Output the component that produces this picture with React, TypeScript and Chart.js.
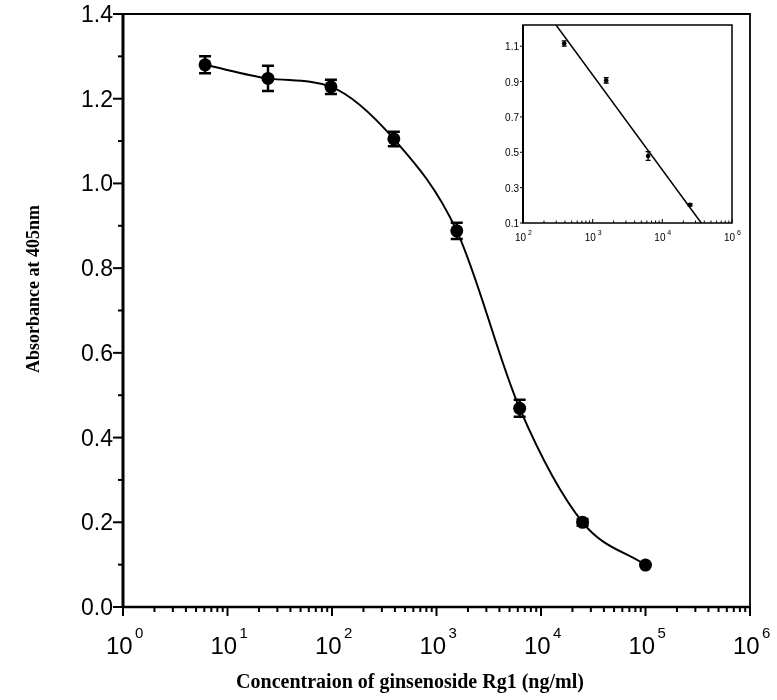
import React, { useEffect, useRef } from "react";
import { Chart, registerables } from "chart.js";

Chart.register(...registerables);

// ---- main plot data ----
const concentrations = [6.1, 24.4, 97.7, 390.6, 1562.5, 6250, 25000, 100000];
const absorbance = [1.28, 1.248, 1.228, 1.105, 0.888, 0.469, 0.2, 0.099];
const absorbanceError = [0.02, 0.03, 0.017, 0.017, 0.019, 0.02, 0.008, 0];

const yTickValues = [0, 0.1, 0.2, 0.3, 0.4, 0.5, 0.6, 0.7, 0.8, 0.9, 1.0, 1.1, 1.2, 1.3, 1.4];
const yTickLabels = ["0.0", "", "0.2", "", "0.4", "", "0.6", "", "0.8", "", "1.0", "", "1.2", "", "1.4"];
const xDecadeExponents = [0, 1, 2, 3, 4, 5, 6];

const xTitle = "Concentraion of ginsenoside Rg1 (ng/ml)";
const yTitle = "Absorbance at 405nm";

// ---- inset data ----
const insetConcentrations = [390.6, 1562.5, 6250, 25000];
const insetAbsorbance = [1.115, 0.907, 0.479, 0.203];
const insetError = [0.015, 0.015, 0.025, 0.006];
const insetFitX = [298, 36200];
const insetFitY = [1.22, 0.1];
const insetYTickValues = [0.1, 0.3, 0.5, 0.7, 0.9, 1.1];
const insetYTickLabels = ["0.1", "0.3", "0.5", "0.7", "0.9", "1.1"];
const insetXTickValues = [100, 1000, 10000, 100000];
const insetXTickExponents = ["2", "3", "4", "6"];

function drawErrorBars(chart: any, xsData: number[], ysData: number[], errs: number[], capHalf: number, lw: number) {
  const ctx = chart.ctx;
  const xs = chart.scales.x;
  const ys = chart.scales.y;
  ctx.save();
  ctx.strokeStyle = "#000";
  ctx.lineWidth = lw;
  for (let i = 0; i < xsData.length; i++) {
    const e = errs[i];
    if (!e) continue;
    const px = xs.getPixelForValue(xsData[i]);
    const y1 = ys.getPixelForValue(ysData[i] + e);
    const y2 = ys.getPixelForValue(ysData[i] - e);
    ctx.beginPath();
    ctx.moveTo(px, y1);
    ctx.lineTo(px, y2);
    ctx.moveTo(px - capHalf, y1);
    ctx.lineTo(px + capHalf, y1);
    ctx.moveTo(px - capHalf, y2);
    ctx.lineTo(px + capHalf, y2);
    ctx.stroke();
  }
  ctx.restore();
}

const mainPlugin = {
  id: "mainDecor",
  beforeDatasetsDraw(chart: any) {
    drawErrorBars(chart, concentrations, absorbance, absorbanceError, 6, 2.5);
  },
  afterDraw(chart: any) {
    const ctx = chart.ctx;
    const xs = chart.scales.x;
    const ys = chart.scales.y;
    const a = chart.chartArea;
    ctx.save();
    ctx.strokeStyle = "#000";
    ctx.fillStyle = "#000";
    // frame
    ctx.lineWidth = 1.8;
    ctx.beginPath();
    ctx.moveTo(a.left, a.top);
    ctx.lineTo(a.right, a.top);
    ctx.lineTo(a.right, a.bottom);
    ctx.stroke();
    ctx.lineWidth = 3;
    ctx.beginPath();
    ctx.moveTo(a.left, a.top - 1);
    ctx.lineTo(a.left, a.bottom);
    ctx.stroke();
    ctx.lineWidth = 2.5;
    ctx.beginPath();
    ctx.moveTo(a.left, a.bottom);
    ctx.lineTo(a.right, a.bottom);
    ctx.stroke();

    // y ticks + labels
    ctx.lineWidth = 2;
    ctx.font = '23px "Liberation Sans", Arial, sans-serif';
    ctx.textAlign = "right";
    ctx.textBaseline = "alphabetic";
    yTickValues.forEach((v, i) => {
      const py = ys.getPixelForValue(v);
      const major = yTickLabels[i] !== "";
      ctx.beginPath();
      ctx.moveTo(a.left, py);
      ctx.lineTo(a.left - (major ? 10 : 5), py);
      ctx.stroke();
      if (major) ctx.fillText(yTickLabels[i], a.left - 10, py + 8);
    });

    // x ticks (log decades with minor ticks)
    ctx.lineWidth = 2;
    for (let k = 0; k < xDecadeExponents.length; k++) {
      const e = xDecadeExponents[k];
      const base = Math.pow(10, e);
      const last = k === xDecadeExponents.length - 1;
      for (let m = 1; m <= (last ? 1 : 9); m++) {
        const px = xs.getPixelForValue(m * base);
        ctx.beginPath();
        ctx.moveTo(px, a.bottom);
        ctx.lineTo(px, a.bottom + (m === 1 ? 9 : 5));
        ctx.stroke();
      }
      const px = xs.getPixelForValue(base);
      ctx.textAlign = "left";
      ctx.font = '24px "Liberation Sans", Arial, sans-serif';
      ctx.fillText("10", px - 17, a.bottom + 47);
      ctx.font = '15px "Liberation Sans", Arial, sans-serif';
      ctx.fillText(String(e), px + 12, a.bottom + 31);
    }

    // titles
    ctx.font = 'bold 20px "Liberation Serif", "Times New Roman", serif';
    ctx.textAlign = "center";
    ctx.fillText(xTitle, 410, 688);
    ctx.save();
    ctx.translate(39, 289);
    ctx.rotate(-Math.PI / 2);
    ctx.font = 'bold 18px "Liberation Serif", "Times New Roman", serif';
    ctx.fillText(yTitle, 0, 0);
    ctx.restore();
    ctx.restore();
  },
};

const insetPlugin = {
  id: "insetDecor",
  beforeDraw(chart: any) {
    const ctx = chart.ctx;
    const a = chart.chartArea;
    ctx.save();
    ctx.fillStyle = "#fff";
    ctx.fillRect(a.left, a.top, a.right - a.left, a.bottom - a.top);
    ctx.restore();
  },
  beforeDatasetsDraw(chart: any) {
    drawErrorBars(chart, insetConcentrations, insetAbsorbance, insetError, 2.5, 1.3);
  },
  afterDraw(chart: any) {
    const ctx = chart.ctx;
    const xs = chart.scales.x;
    const ys = chart.scales.y;
    const a = chart.chartArea;
    ctx.save();
    ctx.strokeStyle = "#000";
    ctx.fillStyle = "#000";
    ctx.lineWidth = 1.5;
    ctx.strokeRect(a.left, a.top, a.right - a.left, a.bottom - a.top);
    ctx.lineWidth = 2;
    ctx.beginPath();
    ctx.moveTo(a.left, a.top);
    ctx.lineTo(a.left, a.bottom);
    ctx.stroke();

    ctx.lineWidth = 1;
    ctx.font = '10px "Liberation Sans", Arial, sans-serif';
    ctx.textAlign = "right";
    insetYTickValues.forEach((v, i) => {
      const py = ys.getPixelForValue(v);
      ctx.beginPath();
      ctx.moveTo(a.left, py);
      ctx.lineTo(a.left - 3, py);
      ctx.stroke();
      ctx.fillText(insetYTickLabels[i], a.left - 4, py + 4);
    });

    for (let k = 0; k < insetXTickValues.length; k++) {
      const base = insetXTickValues[k];
      const last = k === insetXTickValues.length - 1;
      for (let m = 1; m <= (last ? 1 : 9); m++) {
        const px = xs.getPixelForValue(m * base);
        ctx.beginPath();
        ctx.moveTo(px, a.bottom);
        ctx.lineTo(px, a.bottom - (m === 1 ? 4 : 2.5));
        ctx.stroke();
      }
      const px = xs.getPixelForValue(base);
      ctx.textAlign = "left";
      ctx.font = '10px "Liberation Sans", Arial, sans-serif';
      ctx.fillText("10", px - 8, a.bottom + 18);
      ctx.font = '7px "Liberation Sans", Arial, sans-serif';
      ctx.fillText(insetXTickExponents[k], px + 5, a.bottom + 12);
    }
    ctx.restore();
  },
};

export default function App() {
  const mainRef = useRef<HTMLCanvasElement | null>(null);
  const insetRef = useRef<HTMLCanvasElement | null>(null);

  useEffect(() => {
    document.body.style.margin = "0";
    const mainChart = new Chart(mainRef.current as HTMLCanvasElement, {
      type: "line",
      data: {
        datasets: [
          {
            data: concentrations.map((c, i) => ({ x: c, y: absorbance[i] })),
            borderColor: "#000",
            backgroundColor: "#000",
            borderWidth: 2,
            pointRadius: 6.5,
            pointBackgroundColor: "#000",
            pointBorderWidth: 0,
            cubicInterpolationMode: "monotone",
            fill: false,
          },
        ],
      },
      options: {
        animation: false,
        responsive: false,
        events: [],
        layout: { padding: { left: 123, right: 27, top: 14, bottom: 93 } },
        plugins: { legend: { display: false }, tooltip: { enabled: false } },
        scales: {
          x: { type: "logarithmic", min: 1, max: 1e6, display: false },
          y: { type: "linear", min: 0, max: 1.4, display: false },
        },
      },
      plugins: [mainPlugin],
    } as any);

    const insetChart = new Chart(insetRef.current as HTMLCanvasElement, {
      type: "line",
      data: {
        datasets: [
          {
            data: insetFitX.map((c, i) => ({ x: c, y: insetFitY[i] })),
            borderColor: "#000",
            borderWidth: 1.5,
            pointRadius: 0,
            tension: 0,
            fill: false,
          },
          {
            data: insetConcentrations.map((c, i) => ({ x: c, y: insetAbsorbance[i] })),
            showLine: false,
            pointRadius: 2.3,
            pointBackgroundColor: "#000",
            pointBorderWidth: 0,
          },
        ],
      },
      options: {
        animation: false,
        responsive: false,
        events: [],
        layout: { padding: { left: 33, right: 13, top: 10, bottom: 27 } },
        plugins: { legend: { display: false }, tooltip: { enabled: false } },
        scales: {
          x: { type: "logarithmic", min: 100, max: 1e5, display: false },
          y: { type: "linear", min: 0.1, max: 1.22, display: false },
        },
      },
      plugins: [insetPlugin],
    } as any);

    return () => {
      mainChart.destroy();
      insetChart.destroy();
    };
  }, []);

  return (
    <div style={{ position: "relative", width: 777, height: 700, background: "#fff" }}>
      <canvas ref={mainRef} width={777} height={700} style={{ position: "absolute", left: 0, top: 0 }} />
      <canvas ref={insetRef} width={255} height={235} style={{ position: "absolute", left: 490, top: 15 }} />
    </div>
  );
}
